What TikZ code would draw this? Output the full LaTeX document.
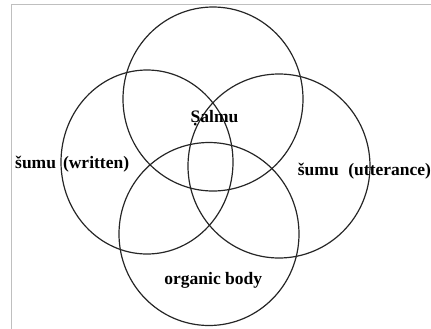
\documentclass[tikz,border=0pt]{standalone}
\usepackage{fontspec}
\setmainfont{Liberation Serif}
\usetikzlibrary{positioning}

\begin{document}
\begin{tikzpicture}[x=1bp, y=-1bp,
    ring/.style={line width=1.2bp, black!85},
    lbl/.style={font=\fontsize{17.5bp}{20bp}\selectfont\bfseries, inner sep=0pt, text=black}]
    % Canvas
    \useasboundingbox (0,0) rectangle (431,329);
    \draw[gray!50, line width=1bp] (11.7,329) -- (11.7,4.7) -- (431,4.7);

    % Circle centres
    \coordinate (Ctop) at (213,99);
    \coordinate (Cleft) at (147,162);
    \coordinate (Cright) at (279,166);
    \coordinate (Cbottom) at (209,234);

    % Circles
    \draw[ring] (Ctop) ellipse [x radius=90, y radius=92];
    \draw[ring] (Cleft) ellipse [x radius=86, y radius=92];
    \draw[ring] (Cright) ellipse [x radius=91, y radius=92];
    \draw[ring] (Cbottom) ellipse [x radius=90, y radius=91.5];

    % Labels
    \node[lbl, anchor=base] (salmu) at (214.5,122.7) {Ṣalmu};
    \node[lbl, anchor=base west] (written) at (15,168.3) {šumu\hspace{0.4em}(written)};
    \node[lbl, anchor=base west] (utter) at (297.7,175.7) {šumu\hspace{0.55em}(utterance)};
    \node[lbl, anchor=base] (body) at (213.3,284) {organic body};
\end{tikzpicture}
\end{document}
